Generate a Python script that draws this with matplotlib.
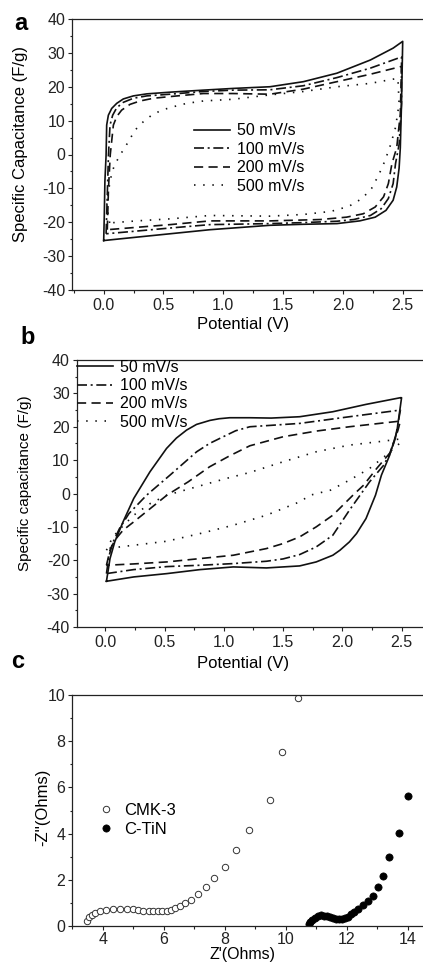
import matplotlib
matplotlib.use("Agg")
import matplotlib.pyplot as plt
from matplotlib.ticker import MultipleLocator

plt.rcParams['font.family'] = ['Liberation Sans', 'DejaVu Sans']
plt.rcParams['axes.unicode_minus'] = False

# ---------------- panel a : CV curves (V, F/g), loop = forward then reverse
a_labels = ['50 mV/s', '100 mV/s', '200 mV/s', '500 mV/s']

a50_v = [0.0, 0.005, 0.01, 0.02, 0.025, 0.039, 0.067, 0.109, 0.164, 0.248, 0.36, 0.555, 0.833, 1.08, 1.39,
         1.67, 1.95, 2.23, 2.42, 2.5,
         2.49, 2.48, 2.47, 2.45, 2.42, 2.36, 2.27, 2.14, 1.95, 1.67, 1.39, 0.889, 0.555, 0.276, 0.0]
a50_c = [-25.4, -18, -8, -0.2, 8.7, 11.6, 13.6, 15.1, 16.4, 17.3, 17.9, 18.4, 19.0, 19.5, 20.0,
         21.5, 24.0, 27.9, 31.4, 33.4,
         15, 2, -4, -9.6, -13.5, -16.5, -18.5, -19.6, -20.4, -20.6, -20.9, -22.2, -23.4, -24.4, -25.4]

a100_v = [0.02, 0.03, 0.04, 0.053, 0.075, 0.109, 0.164, 0.248, 0.36, 0.555, 0.833, 1.08, 1.39,
          1.67, 1.95, 2.23, 2.49,
          2.49, 2.47, 2.44, 2.42, 2.38, 2.32, 2.23, 2.09, 1.95, 1.67, 1.39, 0.889, 0.555, 0.276, 0.02]
a100_c = [-23.4, -12, 0, 8.7, 11.6, 13.8, 15.4, 16.6, 17.3, 17.8, 18.6, 19.0, 19.1,
          20.3, 22.7, 25.5, 28.8,
          15, 3, -2.7, -8.6, -13.0, -16.0, -18.0, -19.2, -19.7, -20.1, -20.4, -20.7, -21.7, -22.6, -23.4]

a200_v = [0.03, 0.04, 0.055, 0.081, 0.109, 0.15, 0.22, 0.304, 0.415, 0.555, 0.833, 1.08, 1.39,
          1.67, 1.95, 2.23, 2.49,
          2.48, 2.45, 2.41, 2.38, 2.34, 2.27, 2.17, 2.03, 1.81, 1.39, 0.889, 0.555, 0.276, 0.03]
a200_c = [-22.2, -10, 0, 8.7, 11.2, 13.1, 14.8, 15.8, 16.6, 17.1, 18.0, 18.0, 17.8,
          19.3, 21.5, 23.7, 26.0,
          12, 2, -2.7, -8.6, -12.5, -15.5, -17.5, -18.5, -19.2, -19.6, -19.6, -20.7, -21.5, -22.2]

a500_v = [0.05, 0.025, 0.04, 0.07, 0.1, 0.14, 0.206, 0.262, 0.332, 0.401, 0.485, 0.582, 0.694, 0.833,
          1.08, 1.39, 1.67, 1.95, 2.23, 2.46,
          2.47, 2.44, 2.40, 2.35, 2.30, 2.24, 2.16, 2.05, 1.9, 1.67, 1.39, 0.889, 0.555, 0.276, 0.05]
a500_c = [-20.2, -15, -10.6, -5, -2.5, 0, 3.75, 7.2, 9.7, 11.6, 13.1, 14.1, 15.1, 15.8,
          16.3, 17.6, 18.6, 20.0, 21.0, 22.5,
          15, 8, 3, -2, -6, -10, -13, -15.3, -16.8, -17.7, -18.2, -18.0, -19.0, -19.6, -20.2]

# ---------------- panel b
b50_v = [0.01, 0.04, 0.08, 0.15, 0.24, 0.377, 0.517, 0.6, 0.686, 0.77, 0.883, 0.96, 1.05, 1.22, 1.4, 1.64,
         1.92, 2.2, 2.49, 2.5,
         2.46, 2.40, 2.33, 2.28, 2.2, 2.12, 2.06, 1.98, 1.92, 1.78, 1.64, 1.36, 1.08, 0.8, 0.52, 0.24, 0.01]
b50_c = [-26.3, -19.5, -14.5, -8.5, -1.5, 6.5, 13.5, 16.6, 19.0, 20.7, 21.9, 22.4, 22.7, 22.7, 22.6, 23.0,
         24.5, 26.7, 28.7, 28.7,
         18.5, 11.5, 5.5, -0.5, -7.5, -12.0, -14.5, -17.0, -18.5, -20.5, -21.7, -22.3, -22.0, -22.8, -24.0,
         -25.0, -26.3]

b100_v = [0.01, 0.03, 0.06, 0.12, 0.2, 0.349, 0.546, 0.771, 0.88, 0.995, 1.1, 1.22, 1.64, 2.06, 2.49,
          2.45, 2.40, 2.35, 2.23, 2.15, 2.06, 1.92, 1.78, 1.64, 1.5, 1.36, 1.08, 0.8, 0.52, 0.24, 0.01]
b100_c = [-24.0, -19.0, -15.0, -10.5, -6.0, -0.5, 5.5, 12.5, 15.0, 17.0, 18.8, 20.0, 21.0, 23.0, 25.0,
          17.0, 12.0, 8.5, 3.5, -0.5, -5.0, -12.5, -16.0, -18.3, -19.6, -20.3, -21.0, -21.5, -21.9, -22.8, -24.0]

b200_v = [0.01, 0.04, 0.08, 0.15, 0.24, 0.38, 0.52, 0.7, 0.88, 1.05, 1.22, 1.5, 1.78, 2.06, 2.49,
          2.47, 2.41, 2.29, 2.18, 2.09, 1.92, 1.78, 1.64, 1.5, 1.36, 1.08, 0.8, 0.52, 0.24, 0.01]
b200_c = [-21.5, -17.0, -14.0, -11.0, -8.5, -4.5, -0.5, 3.5, 8.0, 11.3, 14.3, 17.0, 18.7, 20.0, 21.7,
          19.0, 12.5, 7.5, 2.5, -0.5, -6.5, -10.0, -13.0, -15.0, -16.5, -18.5, -19.5, -20.5, -21.1, -21.5]

b500_v = [0.01, 0.05, 0.1, 0.24, 0.38, 0.52, 0.8, 1.02, 1.22, 1.5, 1.78, 2.06, 2.35, 2.48, 2.5,
          2.45, 2.37, 2.23, 2.06, 1.9, 1.73, 1.64, 1.36, 1.08, 0.8, 0.52, 0.24, 0.01]
b500_c = [-17.0, -14.0, -11.5, -6.5, -3.0, -0.5, 2.3, 4.5, 6.3, 9.5, 12.5, 14.5, 15.7, 16.3, 15.5,
          14.0, 11.5, 7.5, 4.0, 1.0, -0.5, -2.5, -6.5, -9.5, -12.0, -14.3, -15.5, -16.5]

# ---------------- panel c : Nyquist
cmk_x = [3.48, 3.56, 3.65, 3.76, 3.91, 4.10, 4.33, 4.56, 4.78, 4.98, 5.16, 5.33, 5.50, 5.66, 5.81,
         5.95, 6.10, 6.24, 6.37, 6.54, 6.71, 6.89, 7.11, 7.37, 7.66, 8.01, 8.37, 8.81, 9.5, 9.89, 10.41]
cmk_y = [0.22, 0.38, 0.48, 0.58, 0.65, 0.70, 0.74, 0.75, 0.75, 0.74, 0.70, 0.67, 0.65, 0.64, 0.64,
         0.64, 0.65, 0.70, 0.77, 0.87, 0.99, 1.13, 1.37, 1.67, 2.07, 2.55, 3.27, 4.17, 5.44, 7.52, 9.86]
ctin_x = [10.75, 10.8, 10.87, 10.95, 11.05, 11.15, 11.25, 11.35, 11.45, 11.55, 11.65, 11.75, 11.85,
          11.95, 12.05, 12.15, 12.25, 12.38, 12.52, 12.69, 12.85, 13.04, 13.2, 13.4, 13.71, 14.0]
ctin_y = [0.08, 0.18, 0.27, 0.35, 0.42, 0.46, 0.45, 0.42, 0.38, 0.34, 0.31, 0.30, 0.31,
          0.35, 0.41, 0.50, 0.60, 0.72, 0.90, 1.08, 1.31, 1.70, 2.18, 2.97, 4.01, 5.63]
c_labels = ['CMK-3', 'C-TiN']

W, H = 423.0, 965.0
styles = ['-', (0, (6, 2.2, 1.2, 2.2)), (0, (5.5, 3.2)), (0, (0.9, 4.6))]


def px_axes(left, top, right, bottom):
    return fig.add_axes([left / W, 1 - bottom / H, (right - left) / W, (bottom - top) / H])


def style_axes(ax, fs, xpad=3):
    ax.spines['right'].set_visible(False)
    for s in ['left', 'bottom', 'top']:
        ax.spines[s].set_linewidth(0.9)
        ax.spines[s].set_color('#222222')
    ax.tick_params(which='both', direction='out', top=False, right=False, colors='#222222',
                   labelsize=fs, width=0.8)
    ax.tick_params(which='major', length=3.0)
    ax.tick_params(which='minor', length=1.8)
    ax.tick_params(axis='x', pad=xpad)
    ax.tick_params(axis='y', pad=2)


fig = plt.figure(figsize=(W / 100, H / 100), dpi=100)
fig.patch.set_facecolor('white')

# panel a
axa = px_axes(72, 19, 432.6, 290)
for v, c, ls, lab in zip([a50_v, a100_v, a200_v, a500_v], [a50_c, a100_c, a200_c, a500_c], styles, a_labels):
    axa.plot(v, c, color='#111111', lw=1.2, linestyle=ls, label=lab)
axa.set_xlim(-0.265, 2.75)
axa.set_ylim(-40, 40)
axa.set_xticks([0, 0.5, 1.0, 1.5, 2.0, 2.5])
axa.xaxis.set_minor_locator(MultipleLocator(0.25))
axa.yaxis.set_major_locator(MultipleLocator(10))
axa.yaxis.set_minor_locator(MultipleLocator(5))
style_axes(axa, 11.5)
axa.set_ylabel('Specific Capacitance (F/g)', fontsize=12)
axa.yaxis.set_label_coords(-0.122, 0.54)
axa.set_xlabel('Potential (V)', fontsize=12)
axa.xaxis.set_label_coords(0.474, -0.1)
axa.legend(loc='upper left', bbox_to_anchor=(0.338, 0.615), frameon=False, fontsize=11.5,
           handlelength=2.25, handletextpad=0.45, labelspacing=0.22, borderpad=0, borderaxespad=0)

# panel b
axb = px_axes(76.7, 360, 431.2, 627)
for v, c, ls, lab in zip([b50_v, b100_v, b200_v, b500_v], [b50_c, b100_c, b200_c, b500_c], styles, a_labels):
    axb.plot(v, c, color='#111111', lw=1.2, linestyle=ls, label=lab)
axb.set_xlim(-0.241, 2.75)
axb.set_ylim(-40, 40)
axb.set_xticks([0, 0.5, 1.0, 1.5, 2.0, 2.5])
axb.xaxis.set_minor_locator(MultipleLocator(0.25))
axb.yaxis.set_major_locator(MultipleLocator(10))
axb.yaxis.set_minor_locator(MultipleLocator(5))
style_axes(axb, 11.5)
axb.set_ylabel('Specific capacitance (F/g)', fontsize=11)
axb.yaxis.set_label_coords(-0.125, 0.54)
axb.set_xlabel('Potential (V)', fontsize=12)
axb.xaxis.set_label_coords(0.469, -0.108)
axb.legend(loc='upper left', bbox_to_anchor=(0.0, 1.0), frameon=False, fontsize=11.5,
           handlelength=2.3, handletextpad=0.4, labelspacing=0.2, borderpad=0, borderaxespad=0)

# panel c
axc = px_axes(72.3, 695, 438.2, 926)
axc.plot(cmk_x, cmk_y, 'o', ms=4.6, mfc='white', mec='#333333', mew=0.7, label=c_labels[0])
axc.plot(ctin_x, ctin_y, 'o', ms=5.2, mfc='black', mec='black', mew=0.5, label=c_labels[1])
axc.set_xlim(3, 15)
axc.set_ylim(0, 10)
axc.set_xticks([4, 6, 8, 10, 12, 14])
axc.xaxis.set_minor_locator(MultipleLocator(1))
axc.yaxis.set_major_locator(MultipleLocator(2))
axc.yaxis.set_minor_locator(MultipleLocator(1))
style_axes(axc, 11.5, xpad=1.2)
axc.set_ylabel("-Z''(Ohms)", fontsize=12)
axc.yaxis.set_label_coords(-0.061, 0.515)
axc.set_xlabel("Z'(Ohms)", fontsize=11.5)
axc.xaxis.set_label_coords(0.465, -0.09)
axc.legend(loc='upper left', bbox_to_anchor=(0.069, 0.532), frameon=False, fontsize=12,
           handlelength=1.0, handletextpad=0.58, labelspacing=0.25, borderpad=0, borderaxespad=0)

# panel letters
fig.text(21 / W, 1 - 23 / H, 'a', fontsize=17, fontweight='bold', ha='center', va='center')
fig.text(27.5 / W, 1 - 337 / H, 'b', fontsize=17, fontweight='bold', ha='center', va='center')
fig.text(18 / W, 1 - 661 / H, 'c', fontsize=17, fontweight='bold', ha='center', va='center')

fig.savefig('out.png', dpi=100, facecolor='white')
